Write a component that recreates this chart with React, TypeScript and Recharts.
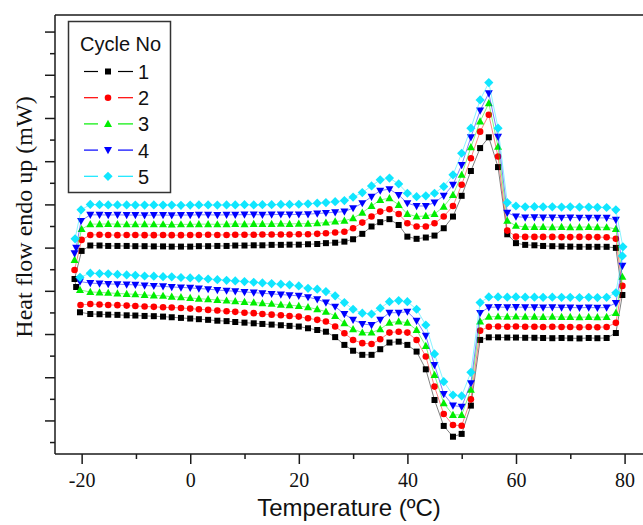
import { Scatter, ScatterChart, XAxis, YAxis } from "recharts"

// temperature grid of the heating scan (°C), cooling scan runs back over the same points
const HEAT_T = [
  -18.5, -16.8, -15.2, -13.5, -11.8, -10.2, -8.5, -6.8, -5.1, -3.5, -1.8, -0.1, 1.5, 3.2, 4.9,
  6.6, 8.2, 9.9, 11.6, 13.2, 14.9, 16.6, 18.2, 19.9, 21.6, 23.3, 24.9, 26.6, 28.3, 29.9, 31.6,
  33.3, 34.9, 36.6, 38.3, 39.9, 41.6, 43.3, 44.9, 46.6, 48.3, 49.9, 51.6, 53.3, 54.9, 56.6, 58.3,
  59.9, 61.6, 63.3, 64.9, 66.6, 68.3, 69.9, 71.6, 73.3, 74.9, 76.6, 78.3,
]
const COOL_T = [
  78.3, 76.6, 74.9, 73.3, 71.6, 69.9, 68.3, 66.6, 64.9, 63.3, 61.6, 59.9, 58.3, 56.6, 54.9, 53.3,
  51.6, 49.9, 48.3, 46.6, 44.9, 43.3, 41.6, 39.9, 38.3, 36.6, 34.9, 33.3, 31.6, 29.9, 28.3, 26.6,
  24.9, 23.3, 21.6, 19.9, 18.2, 16.6, 14.9, 13.2, 11.6, 9.9, 8.2, 6.6, 4.9, 3.2, 1.5, -0.1, -1.8,
  -3.5, -5.1, -6.8, -8.5, -10.2, -11.8, -13.5, -15.2, -16.8, -18.5,
]

// heat flow (arbitrary mW units) on heating
const HEAT_1 = [
  8.12, 8.12, 8.1, 8.1, 8.1, 8.09, 8.09, 8.08, 8.08, 8.07, 8.07, 8.07, 8.09, 8.09, 8.1, 8.1, 8.12,
  8.12, 8.13, 8.13, 8.15, 8.15, 8.16, 8.16, 8.18, 8.19, 8.23, 8.25, 8.3, 8.41, 8.66, 9.0, 9.2, 9.34,
  9.07, 8.53, 8.43, 8.49, 8.58, 8.92, 9.46, 10.42, 11.57, 12.63, 13.13, 11.75, 8.64, 8.23, 8.15,
  8.13, 8.1, 8.09, 8.08, 8.07, 8.06, 8.06, 8.06, 8.06, 8.01,
]
const HEAT_2 = [
  8.61, 8.62, 8.61, 8.6, 8.61, 8.61, 8.6, 8.6, 8.61, 8.6, 8.6, 8.61, 8.61, 8.62, 8.61, 8.61, 8.62,
  8.62, 8.62, 8.63, 8.63, 8.63, 8.63, 8.64, 8.64, 8.66, 8.69, 8.72, 8.76, 8.92, 9.18, 9.46, 9.69,
  9.8, 9.58, 9.15, 9.0, 9.0, 9.15, 9.46, 9.95, 10.93, 12.16, 13.39, 14.17, 12.24, 8.81, 8.53, 8.52,
  8.52, 8.52, 8.52, 8.51, 8.51, 8.52, 8.51, 8.51, 8.5, 8.43,
]
const HEAT_3 = [
  9.11, 9.11, 9.12, 9.11, 9.1, 9.1, 9.11, 9.1, 9.1, 9.09, 9.1, 9.1, 9.11, 9.11, 9.1, 9.11, 9.12,
  9.11, 9.12, 9.12, 9.12, 9.13, 9.12, 9.13, 9.13, 9.15, 9.18, 9.23, 9.27, 9.38, 9.64, 9.95, 10.23,
  10.31, 10.0, 9.58, 9.46, 9.49, 9.58, 9.92, 10.46, 11.39, 12.67, 13.86, 14.71, 12.69, 9.27, 9.03,
  8.98, 8.98, 8.98, 8.97, 8.98, 8.97, 8.97, 8.98, 8.97, 8.96, 8.89,
]
const HEAT_4 = [
  9.54, 9.54, 9.53, 9.54, 9.53, 9.53, 9.52, 9.53, 9.53, 9.52, 9.53, 9.53, 9.54, 9.54, 9.53, 9.54,
  9.54, 9.55, 9.55, 9.54, 9.55, 9.56, 9.55, 9.56, 9.57, 9.6, 9.63, 9.66, 9.69, 9.85, 10.08, 10.38,
  10.66, 10.73, 10.46, 10.08, 9.95, 9.95, 10.11, 10.42, 10.93, 11.85, 13.13, 14.37, 15.17, 13.15,
  9.64, 9.46, 9.42, 9.43, 9.42, 9.42, 9.41, 9.42, 9.41, 9.41, 9.4, 9.4, 9.31,
]
const HEAT_5 = [
  10.02, 10.01, 10.0, 10.0, 10.0, 9.99, 9.99, 10.0, 9.99, 9.99, 9.98, 9.99, 10.0, 10.0, 9.99, 10.0,
  10.0, 10.01, 10.0, 10.01, 10.01, 10.02, 10.02, 10.03, 10.05, 10.08, 10.11, 10.15, 10.2, 10.36,
  10.57, 10.88, 11.16, 11.24, 10.97, 10.54, 10.38, 10.42, 10.54, 10.85, 11.39, 12.39, 13.55, 14.86,
  15.66, 13.55, 10.11, 9.95, 9.91, 9.92, 9.91, 9.91, 9.9, 9.91, 9.9, 9.9, 9.89, 9.88, 9.77,
]

// heat flow on cooling
const COOL_1 = [
  4.07, 3.84, 3.83, 3.84, 3.82, 3.83, 3.84, 3.83, 3.84, 3.85, 3.85, 3.86, 3.86, 3.87, 3.87, 3.75,
  0.71, -0.6, -0.73, -0.23, 0.97, 2.39, 3.21, 3.52, 3.67, 3.63, 3.32, 3.06, 3.06, 3.25, 3.52, 3.88,
  4.13, 4.21, 4.29, 4.37, 4.4, 4.43, 4.46, 4.49, 4.52, 4.55, 4.58, 4.62, 4.64, 4.68, 4.71, 4.74,
  4.77, 4.8, 4.83, 4.85, 4.86, 4.88, 4.89, 4.91, 4.92, 4.94, 4.95,
]
const COOL_2 = [
  4.54, 4.35, 4.34, 4.35, 4.34, 4.35, 4.35, 4.36, 4.35, 4.36, 4.36, 4.37, 4.36, 4.37, 4.36, 4.18,
  1.0, -0.22, -0.19, 0.32, 1.59, 2.98, 3.75, 4.09, 4.13, 4.09, 3.78, 3.56, 3.6, 3.75, 4.06, 4.37,
  4.6, 4.68, 4.75, 4.83, 4.86, 4.89, 4.92, 4.95, 4.99, 5.01, 5.05, 5.08, 5.11, 5.14, 5.17, 5.2,
  5.23, 5.25, 5.26, 5.28, 5.3, 5.32, 5.34, 5.36, 5.37, 5.39, 5.41,
]
const COOL_3 = [
  5.0, 4.81, 4.8, 4.81, 4.8, 4.81, 4.81, 4.82, 4.81, 4.82, 4.82, 4.83, 4.82, 4.83, 4.82, 4.6, 1.44,
  0.28, 0.28, 0.82, 2.13, 3.47, 4.21, 4.55, 4.6, 4.55, 4.25, 4.09, 4.09, 4.25, 4.52, 4.86, 5.06,
  5.17, 5.26, 5.32, 5.36, 5.38, 5.42, 5.45, 5.48, 5.51, 5.54, 5.57, 5.6, 5.63, 5.66, 5.69, 5.73,
  5.75, 5.79, 5.81, 5.83, 5.86, 5.88, 5.9, 5.93, 5.95, 5.97,
]
const COOL_4 = [
  5.46, 5.25, 5.24, 5.25, 5.24, 5.25, 5.25, 5.26, 5.25, 5.26, 5.26, 5.27, 5.26, 5.27, 5.26, 5.0,
  1.75, 0.66, 0.71, 1.25, 2.59, 3.94, 4.64, 5.06, 5.01, 5.01, 4.68, 4.44, 4.49, 4.68, 4.95, 5.29,
  5.48, 5.63, 5.73, 5.79, 5.82, 5.85, 5.88, 5.91, 5.94, 5.97, 6.0, 6.03, 6.06, 6.1, 6.13, 6.16,
  6.18, 6.2, 6.23, 6.25, 6.27, 6.3, 6.31, 6.33, 6.34, 6.36, 6.38,
]
const COOL_5 = [
  5.93, 5.72, 5.71, 5.72, 5.71, 5.72, 5.72, 5.73, 5.72, 5.73, 5.73, 5.74, 5.73, 5.74, 5.74, 5.48,
  2.25, 1.16, 1.2, 1.82, 3.1, 4.44, 5.17, 5.52, 5.57, 5.52, 5.22, 4.95, 4.99, 5.17, 5.48, 5.79,
  5.99, 6.1, 6.14, 6.25, 6.3, 6.33, 6.36, 6.39, 6.42, 6.45, 6.48, 6.51, 6.54, 6.57, 6.6, 6.62,
  6.64, 6.67, 6.68, 6.7, 6.71, 6.74, 6.76, 6.78, 6.81, 6.82, 6.84,
]

// [temperature, heat flow] points where each scan starts, turns at 80 °C and ends
const START_1 = [[-21.1, 6.2], [-21.4, 6.57], [-20.1, 7.87]]
const START_2 = [[-21.4, 6.99], [-20.1, 8.38]]
const START_3 = [[-21.4, 7.45], [-20.1, 8.88]]
const START_4 = [[-21.4, 7.76], [-21.1, 8.02], [-20.2, 9.26]]
const START_5 = [[-21.3, 8.43], [-20.2, 9.77]]
const TURN_1 = [[79.5, 5.83]]
const TURN_2 = [[79.5, 6.25]]
const TURN_3 = [[79.5, 6.67]]
const TURN_4 = [[79.5, 7.18]]
const TURN_5 = [[79.6, 8.06], [79.5, 7.64]]
const END_1 = [[-20.4, 5.03]]
const END_2 = [[-20.3, 5.37]]
const END_3 = [[-20.4, 6.06]]
const END_4 = [[-20.4, 6.45]]
const END_5 = [[-20.4, 6.65]]

const X_TICKS = [-20, -10, 0, 10, 20, 30, 40, 50, 60, 70, 80]
const Y_TICKS = [-1, 0, 1, 2, 3, 4, 5, 6, 7, 8, 9, 10, 11, 12, 13, 14, 15, 16, 17, 18]
const X_DOMAIN = [-25, 83.3]
const Y_DOMAIN = [-1.53, 18.79]

type Kind = "square" | "circle" | "triangle" | "triangleDown" | "diamond"

const CYCLES = [
  { name: "1", color: "#000000", kind: "square" as Kind, start: START_1, heat: HEAT_1, turn: TURN_1, cool: COOL_1, end: END_1 },
  { name: "2", color: "#ff0000", kind: "circle" as Kind, start: START_2, heat: HEAT_2, turn: TURN_2, cool: COOL_2, end: END_2 },
  { name: "3", color: "#00ee00", kind: "triangle" as Kind, start: START_3, heat: HEAT_3, turn: TURN_3, cool: COOL_3, end: END_3 },
  { name: "4", color: "#0000ff", kind: "triangleDown" as Kind, start: START_4, heat: HEAT_4, turn: TURN_4, cool: COOL_4, end: END_4 },
  { name: "5", color: "#10e6ff", kind: "diamond" as Kind, start: START_5, heat: HEAT_5, turn: TURN_5, cool: COOL_5, end: END_5 },
]

const AXIS = "#1a1a1a"
const SERIF = '"Liberation Serif", "Times New Roman", serif'
const SANS = '"Liberation Sans", Arial, sans-serif'

function buildCycle(cycle: (typeof CYCLES)[number]) {
  const points: { t: number; q: number }[] = []
  cycle.start.forEach(([t, q]) => points.push({ t, q }))
  HEAT_T.forEach((t, i) => points.push({ t, q: cycle.heat[i] }))
  cycle.turn.forEach(([t, q]) => points.push({ t, q }))
  COOL_T.forEach((t, i) => points.push({ t, q: cycle.cool[i] }))
  cycle.end.forEach(([t, q]) => points.push({ t, q }))
  return points
}

function Marker({ cx, cy, kind, color }: { cx: number; cy: number; kind: Kind; color: string }) {
  if (cx == null || cy == null) return null

  if (kind === "square") {
    return <rect x={cx - 3} y={cy - 3} width={6} height={6} fill={color} />
  }
  if (kind === "circle") {
    return <circle cx={cx} cy={cy} r={3.3} fill={color} />
  }
  if (kind === "triangle") {
    return <polygon points={`${cx},${cy - 4.2} ${cx + 4},${cy + 3} ${cx - 4},${cy + 3}`} fill={color} />
  }
  if (kind === "triangleDown") {
    return <polygon points={`${cx - 4},${cy - 3} ${cx + 4},${cy - 3} ${cx},${cy + 4.2}`} fill={color} />
  }
  return <polygon points={`${cx},${cy - 4.6} ${cx + 4.6},${cy} ${cx},${cy + 4.6} ${cx - 4.6},${cy}`} fill={color} />
}

function renderXTick(props: any) {
  const { x, y, payload } = props
  const major = payload.value % 20 === 0

  return (
    <g>
      <line x1={x} y1={y} x2={x} y2={y + (major ? 10 : 5)} stroke={AXIS} strokeWidth={1.5} />
      {major && (
        <text x={x} y={y + 33} textAnchor="middle" style={{ fontFamily: SERIF }} fontSize={20} fill="#111">
          {payload.value}
        </text>
      )}
    </g>
  )
}

function renderYTick(props: any) {
  const { x, y, payload } = props
  const major = payload.value % 2 === 0

  return <line x1={x - (major ? 10 : 5)} y1={y} x2={x} y2={y} stroke={AXIS} strokeWidth={1.5} />
}

function LegendBox() {
  return (
    <svg
      width={643}
      height={525}
      style={{ position: "absolute", left: 0, top: 0, pointerEvents: "none" }}
    >
      <rect x={68.5} y={21.5} width={102} height={171} fill="#fff" stroke="#333" strokeWidth={1.5} />
      <text x={80} y={51} fontFamily={SANS} fontSize={20} fill="#111">
        Cycle No
      </text>
      {CYCLES.map((cycle, i) => {
        const cy = 71.5 + i * 26.2
        return (
          <g key={cycle.name}>
            <line x1={84} y1={cy} x2={98} y2={cy} stroke={cycle.color} strokeWidth={1.2} />
            <line x1={118} y1={cy} x2={133} y2={cy} stroke={cycle.color} strokeWidth={1.2} />
            <Marker cx={108} cy={cy} kind={cycle.kind} color={cycle.color} />
            <text x={138} y={cy + 7.5} fontFamily={SANS} fontSize={20} fill="#111">
              {cycle.name}
            </text>
          </g>
        )
      })}
    </svg>
  )
}

export default function App() {
  return (
    <div style={{ position: "absolute", left: 0, top: 0, width: 643, height: 525, background: "#fff" }}>
      <ScatterChart width={643} height={525} margin={{ top: 14, right: 0, bottom: 70, left: 54 }}>
        <XAxis
          type="number"
          dataKey="t"
          domain={X_DOMAIN}
          allowDataOverflow
          ticks={X_TICKS}
          interval={0}
          height={1}
          tickSize={0}
          tickMargin={0}
          tickLine={false}
          tick={renderXTick}
          axisLine={{ stroke: AXIS, strokeWidth: 1.5 }}
          label={{
            content: (props: any) => {
              const vb = props.viewBox
              return (
                <text
                  x={vb.x + vb.width / 2}
                  y={vb.y + 62}
                  textAnchor="middle"
                  fontFamily={SANS}
                  fontSize={24}
                  fill="#111"
                >
                  Temperature (ºC)
                </text>
              )
            },
          }}
        />
        <XAxis
          xAxisId="top"
          orientation="top"
          type="number"
          domain={X_DOMAIN}
          allowDataOverflow
          height={1}
          tick={false}
          tickLine={false}
          axisLine={{ stroke: AXIS, strokeWidth: 1.5 }}
        />
        <YAxis
          type="number"
          dataKey="q"
          domain={Y_DOMAIN}
          allowDataOverflow
          ticks={Y_TICKS}
          interval={0}
          width={1}
          tickSize={0}
          tickMargin={0}
          tickLine={false}
          tick={renderYTick}
          axisLine={{ stroke: AXIS, strokeWidth: 1.5 }}
          label={{
            content: () => (
              <text
                x={24}
                y={217}
                transform="rotate(-90 24 217)"
                textAnchor="middle"
                dominantBaseline="central"
                fontFamily={SERIF}
                fontSize={24}
                fill="#111"
              >
                Heat flow endo up (mW)
              </text>
            ),
          }}
        />
        {CYCLES.map((cycle) => (
          <Scatter
            key={cycle.name}
            name={cycle.name}
            data={buildCycle(cycle)}
            line={{ stroke: cycle.color, strokeWidth: 0.5 }}
            lineType="joint"
            isAnimationActive={false}
            shape={(p: any) => <Marker cx={p.cx} cy={p.cy} kind={cycle.kind} color={cycle.color} />}
          />
        ))}
      </ScatterChart>
      <LegendBox />
    </div>
  )
}
